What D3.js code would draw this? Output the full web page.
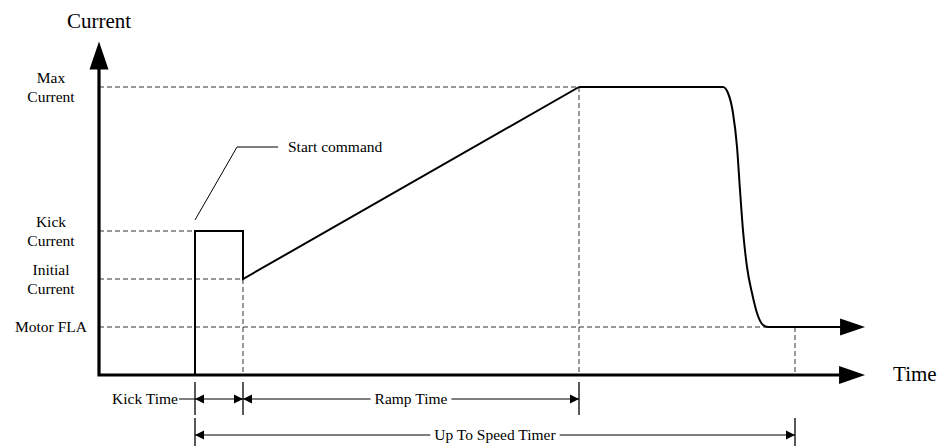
<!DOCTYPE html>
<html>
<head>
<meta charset="utf-8">
<script src="https://cdn.jsdelivr.net/npm/d3@7"></script>
<style>
body { margin: 0; background: #fff; }
text { font-family: "Liberation Serif", "Times New Roman", serif; fill: #000; }
</style>
</head>
<body>
<div id="chart"></div>
<script>
// current levels (schematic units, motor FLA = 1)
const levelLabels = [['Motor FLA'], ['Initial', 'Current'], ['Kick', 'Current'], ['Max', 'Current']];
const levelValues = [1, 2, 3, 6];

// key times (schematic units, start command = 0)
const kickEnd = 0.5;
const rampEnd = 4;
const upToSpeedEnd = 6.25;
const axisTimeEnd = 6.98;
const axisCurrentEnd = 6.95;

// kick + ramp part of the current profile
const rampTimes = [0, 0, 0.5, 0.5, 4];
const rampCurrents = [0, 3, 3, 2, 6];

// plateau, drop to FLA and running part
const dropTimes = [4, 5.5, 5.552, 5.604, 5.646, 5.677, 5.708, 5.75, 5.802, 5.854, 5.917, 5.969, 6.98];
const dropCurrents = [6, 6, 5.875, 5.458, 4.75, 3.854, 3.021, 2.25, 1.708, 1.292, 1.042, 1, 1];

// dimension annotations under the time axis
const dimLabels = ['Kick Time', 'Ramp Time', 'Up To Speed Timer'];
const dimFrom = [0, kickEnd, 0];
const dimTo = [kickEnd, rampEnd, upToSpeedEnd];
const dimRow = [0, 0, 1];

const width = 947, height = 446;

const svg = d3.select('#chart')
    .append('svg')
    .attr('width', width)
    .attr('height', height);

const x = d3.scaleLinear().domain([-1, 7]).range([99, 867]);
const y = d3.scaleLinear().domain([0, 7]).range([375, 39]);

const rowY = [399, 435];

function arrowHead(tipX, tipY, dir, len, half) {
    let pts;
    if (dir === 'right') pts = [[tipX, tipY], [tipX - len, tipY - half], [tipX - len, tipY + half]];
    else if (dir === 'left') pts = [[tipX, tipY], [tipX + len, tipY - half], [tipX + len, tipY + half]];
    else pts = [[tipX, tipY], [tipX - half, tipY + len], [tipX + half, tipY + len]];
    svg.append('path')
        .attr('d', 'M' + pts.join('L') + 'Z')
        .attr('fill', '#000');
}

// dashed guide lines
const guides = svg.append('g')
    .attr('fill', 'none')
    .attr('stroke', '#333')
    .attr('stroke-width', 1)
    .attr('stroke-dasharray', '5,3');

const guideEnds = [5.969, kickEnd, 0, rampEnd];
levelValues.forEach((v, i) => {
    guides.append('line')
        .attr('x1', x(-1)).attr('x2', x(guideEnds[i]))
        .attr('y1', y(v)).attr('y2', y(v));
});
guides.append('line')
    .attr('x1', x(kickEnd)).attr('x2', x(kickEnd))
    .attr('y1', y(2)).attr('y2', y(0));
guides.append('line')
    .attr('x1', x(rampEnd)).attr('x2', x(rampEnd))
    .attr('y1', y(6)).attr('y2', y(0));
guides.append('line')
    .attr('x1', x(upToSpeedEnd)).attr('x2', x(upToSpeedEnd))
    .attr('y1', y(1)).attr('y2', y(0));

// current profile
const linear = d3.line()
    .x(d => x(d[0]))
    .y(d => y(d[1]));

svg.append('path')
    .attr('d', linear(d3.zip(rampTimes, rampCurrents)))
    .attr('fill', 'none')
    .attr('stroke', '#000')
    .attr('stroke-width', 2)
    .attr('stroke-linejoin', 'miter');

const tailArrowLen = 25;
const dropData = d3.zip(dropTimes, dropCurrents);
dropData[dropData.length - 1][0] = x.invert(x(axisTimeEnd) - tailArrowLen + 1);

const smooth = d3.line()
    .x(d => x(d[0]))
    .y(d => y(d[1]))
    .curve(d3.curveMonotoneX);

svg.append('path')
    .attr('d', smooth(dropData))
    .attr('fill', 'none')
    .attr('stroke', '#000')
    .attr('stroke-width', 2);

arrowHead(x(axisTimeEnd), y(1), 'right', tailArrowLen, 8.5);

// axes
const xArrowLen = 26, yArrowLen = 28;
svg.append('path')
    .attr('d', `M${x(-1)},${y(axisCurrentEnd) + yArrowLen - 1}V${y(0)}H${x(axisTimeEnd) - xArrowLen + 1}`)
    .attr('fill', 'none')
    .attr('stroke', '#000')
    .attr('stroke-width', 3.2)
    .attr('stroke-linejoin', 'miter');

arrowHead(x(-1), y(axisCurrentEnd), 'up', yArrowLen, 9.5);
arrowHead(x(axisTimeEnd), y(0), 'right', xArrowLen, 9);

svg.append('text')
    .attr('x', x(-1))
    .attr('y', 28)
    .attr('text-anchor', 'middle')
    .style('font-size', '21px')
    .text('Current');

svg.append('text')
    .attr('x', x(axisTimeEnd) + 28)
    .attr('y', y(0) + 6)
    .style('font-size', '21px')
    .text('Time');

// level labels
levelLabels.forEach((lines, i) => {
    const t = svg.append('text')
        .attr('text-anchor', 'middle')
        .style('font-size', '15.5px');
    const base = lines.length === 1 ? y(levelValues[i]) + 5 : y(levelValues[i]) - 4.5;
    lines.forEach((s, j) => {
        t.append('tspan')
            .attr('x', 51)
            .attr('y', base + j * 19)
            .text(s);
    });
});

// start command leader
const lx0 = x(0), ly0 = y(3) - 11;
const lx1 = lx0 + 42, ly1 = y(3) - 84;
svg.append('path')
    .attr('d', `M${lx0},${ly0}L${lx1},${ly1}H${lx1 + 41}`)
    .attr('fill', 'none')
    .attr('stroke', '#000')
    .attr('stroke-width', 1);
svg.append('text')
    .attr('x', lx1 + 51)
    .attr('y', ly1 + 5)
    .style('font-size', '15.5px')
    .text('Start command');

// dimension ticks
const tickTimes = [[0, kickEnd, rampEnd], [0, upToSpeedEnd]];
const tickSpans = [[382, 415], [418, 446]];
tickTimes.forEach((row, r) => {
    row.forEach(t => {
        svg.append('line')
            .attr('x1', x(t)).attr('x2', x(t))
            .attr('y1', tickSpans[r][0]).attr('y2', tickSpans[r][1])
            .attr('stroke', '#000')
            .attr('stroke-width', 1.3);
    });
});

// dimension lines
dimLabels.forEach((label, i) => {
    const x1 = x(dimFrom[i]), x2 = x(dimTo[i]);
    const yy = rowY[dimRow[i]];
    const g = svg.append('g');
    const txt = g.append('text')
        .attr('y', yy + 5)
        .style('font-size', '15.5px')
        .text(label);
    const w = txt.node().getComputedTextLength();
    if (i === 0) {
        txt.attr('x', x1 - 17).attr('text-anchor', 'end');
        g.append('line')
            .attr('x1', x1 - 16).attr('x2', x2)
            .attr('y1', yy).attr('y2', yy)
            .attr('stroke', '#000');
    } else {
        const cx = (x1 + x2) / 2;
        txt.attr('x', cx).attr('text-anchor', 'middle');
        g.append('line')
            .attr('x1', x1).attr('x2', cx - w / 2 - 4)
            .attr('y1', yy).attr('y2', yy)
            .attr('stroke', '#000');
        g.append('line')
            .attr('x1', cx + w / 2 + 4).attr('x2', x2)
            .attr('y1', yy).attr('y2', yy)
            .attr('stroke', '#000');
    }
    arrowHead(x1, yy, 'left', 9, 4.5);
    arrowHead(x2, yy, 'right', 9, 4.5);
});
</script>
</body>
</html>
